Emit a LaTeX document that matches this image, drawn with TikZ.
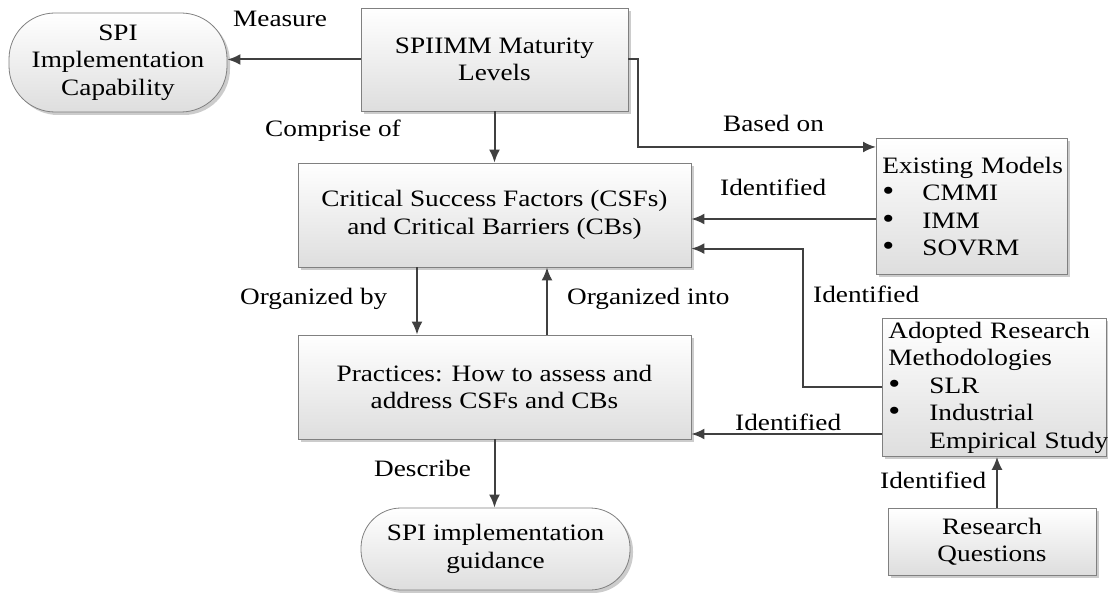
\documentclass[tikz,border=0pt]{standalone}
\usepackage{fontspec}
\setmainfont{Liberation Serif}[FakeStretch=1.16]
\usetikzlibrary{arrows.meta,shadows}
\definecolor{edge}{HTML}{808080}
\definecolor{link}{HTML}{404040}
\newcommand{\itemdot}[1]{\makebox[#1][l]{\scalebox{1.25}{\textbullet}}}
\begin{document}
\begin{tikzpicture}[x=1pt,y=-1pt,
  font=\fontsize{23.5}{27.5}\selectfont,
  every node/.style={inner sep=0pt},
  boxbase/.style={draw=edge, line width=0.8pt, top color=white, bottom color=black!13,
    drop shadow={shadow xshift=3pt, shadow yshift=-3pt, fill=black!20, opacity=1}},
  box/.style={boxbase, rectangle, align=center},
  listbox/.style={boxbase, rectangle, align=left, anchor=north west, inner xsep=6pt},
  pill/.style={boxbase, rectangle, rounded corners=#1, align=center},
  lbl/.style={anchor=base west},
  link/.style={draw=link, line width=2pt, -{Latex[length=13pt,width=11pt]}}]
\useasboundingbox (0,0) rectangle (1108,593);

% boxes and terminators
\node[pill=46pt, minimum width=218pt, minimum height=99pt] (cap) at (118,62.5)
  {SPI\\Implementation\\Capability};
\node[box, minimum width=267pt, minimum height=103pt] (spiimm) at (494.5,59.5)
  {SPIIMM Maturity\\Levels};
\node[box, minimum width=393pt, minimum height=104pt] (csf) at (494.5,215)
  {Critical Success Factors (CSFs)\\and Critical Barriers (CBs)};
\node[box, minimum width=393pt, minimum height=104pt] (prac) at (494.5,387)
  {Practices: How to assess and\\address CSFs and CBs};
\node[pill=40pt, minimum width=269pt, minimum height=82pt] (guide) at (495.5,549)
  {SPI implementation\\guidance};
\node[listbox, text width=179pt, minimum width=191pt, minimum height=136pt] (models) at (876,138)
  {\rlap{Existing Models}\\
   \itemdot{40pt}CMMI\\
   \itemdot{40pt}IMM\\
   \itemdot{40pt}SOVRM};
\node[listbox, text width=212pt, minimum width=224pt, minimum height=138pt] (methods) at (882,318)
  {\rlap{Adopted Research}\\Methodologies\\
   \itemdot{41pt}SLR\\
   \itemdot{41pt}Industrial\\
   \hspace*{41pt}\rlap{Empirical Study}};
\node[box, minimum width=208pt, minimum height=67pt] (rq) at (992,541.5)
  {Research\\Questions};

% connectors
\draw[link] (spiimm.west) -- (spiimm.west -| cap.east);
\draw[link] (spiimm.south) -- (csf.north);
\draw[link] (spiimm.east) -- ++(10,0) |- ([yshift=-9pt]models.north west);
\draw[link] ([yshift=-81pt]models.north west) -- ([yshift=-81pt]models.north west -| csf.east);
\draw[link] ([yshift=-69pt]methods.north west) -| ([xshift=112pt,yshift=-86pt]csf.north east)
  -- ([yshift=-86pt]csf.north east);
\draw[link] ([yshift=-116pt]methods.north west) -- ([yshift=-116pt]methods.north west -| prac.east);
\draw[link] ([xshift=-77.5pt]csf.south) -- ([xshift=-77.5pt]prac.north);
\draw[link] ([xshift=52.5pt]prac.north) -- ([xshift=52.5pt]csf.south);
\draw[link] (prac.south) -- (prac.south |- guide.north);
\draw[link] ([xshift=5pt]rq.north) -- ([xshift=5pt]rq.north |- methods.south);

% connector labels
\node[lbl] (l1) at (233,27) {Measure};
\node[lbl] (l2) at (265,137) {Comprise of};
\node[lbl] (l3) at (723,132) {Based on};
\node[lbl] (l4) at (720,196) {Identified};
\node[lbl] (l5) at (813,303) {Identified};
\node[lbl] (l6) at (240,305) {Organized by};
\node[lbl] (l7) at (567,305) {Organized into};
\node[lbl] (l8) at (735,430) {Identified};
\node[lbl] (l9) at (374,476) {Describe};
\node[lbl] (l10) at (880,488) {Identified};
\end{tikzpicture}
\end{document}
